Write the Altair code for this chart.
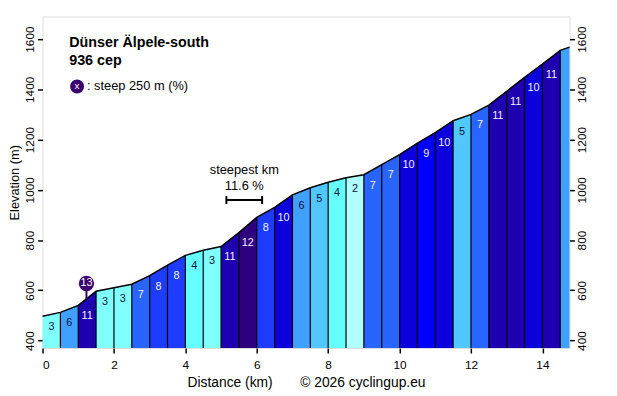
import altair as alt
import pandas as pd

# ---- data ----
dist = [0, 0.5, 1.0, 1.5, 2.0, 2.5, 3.0, 3.5, 4.0, 4.5, 5.0, 5.5, 6.0, 6.5, 7.0,
        7.5, 8.0, 8.5, 9.0, 9.5, 10.0, 10.5, 11.0, 11.5, 12.0, 12.5, 13.0, 13.5,
        14.0, 14.5, 14.76]
elev = [497, 512, 540, 596, 610, 624, 658, 700, 739, 759, 774, 830, 890, 930, 980,
        1008, 1030, 1048, 1060, 1100, 1140, 1186, 1228, 1275, 1300, 1337, 1392, 1448,
        1500, 1555, 1568]
grad = [3, 6, 11, 3, 3, 7, 8, 8, 4, 3, 11, 12, 8, 10, 6, 5, 4, 2, 7, 7, 10, 9, 10,
        5, 7, 11, 11, 10, 11, 6]
labelled = [True] * 29 + [False]

palette = {2: "#b0ffff", 3: "#80ffff", 4: "#66ffff", 5: "#50c8ff", 6: "#40a0ff",
           7: "#2864ff", 8: "#1e3cff", 9: "#0000ff", 10: "#0c00dc", 11: "#1e00b0",
           12: "#2e0080", 13: "#3a0070"}

title_lines = ["Dünser Älpele-south", "936 cep"]
legend_text = ": steep 250 m (%)"
steep_x, steep_pct, steep_base, steep_top = 1.23, 13, 566, 627
steepest_start, steepest_end, steepest_val = 5.15, 6.15, 11.6
x_ticks = [0, 2, 4, 6, 8, 10, 12, 14]
y_ticks = [400, 600, 800, 1000, 1200, 1400, 1600]

FONT = "Liberation Sans"
W, H = 534, 336

# ---- tables ----
seg_rows = []
for i, g in enumerate(grad):
    for j in (i, i + 1):
        seg_rows.append({"seg": i, "d": dist[j], "e": elev[j], "color": palette[g]})
seg_df = pd.DataFrame(seg_rows)
prof_df = pd.DataFrame({"d": dist, "e": elev})
bnd_df = pd.DataFrame({"d": dist[1:-1], "e": elev[1:-1]})
lab_df = pd.DataFrame({
    "mid": [(dist[i] + dist[i + 1]) / 2 for i in range(len(grad))],
    "e": elev[:-1],
    "txt": [str(g) if labelled[i] else "" for i, g in enumerate(grad)],
    "tcol": ["#10103a" if g <= 6 else "#f4f0ff" for g in grad],
})

xs = alt.Scale(domain=[0, dist[-1]], nice=False, zero=False)
ys = alt.Scale(domain=[370, 1690], nice=False, zero=False)
x_axis = alt.Axis(values=x_ticks, title="Distance (km)\u2003\u2003© 2026 cyclingup.eu",
                  labelFontSize=12, titleFontSize=14, titleFontWeight="normal",
                  tickSize=5, tickWidth=1.5, tickColor="black", domain=False, grid=False,
                  labelColor="black", titleColor="black", labelPadding=7, titlePadding=5,
                  labelFont=FONT, titleFont=FONT, format="d")
yl_axis = alt.Axis(values=y_ticks, title="Elevation (m)", orient="left", labelAngle=-90,
                   labelAlign="center", labelBaseline="bottom", labelFontSize=12,
                   titleFontSize=13, titleFontWeight="normal", tickSize=5, tickWidth=1.5,
                   tickColor="black", domain=False, grid=False, labelColor="black",
                   titleColor="black", labelPadding=1, titlePadding=2,
                   labelFont=FONT, titleFont=FONT, format="d")
yr_axis = alt.Axis(values=y_ticks, title=None, orient="right", labelAngle=-90,
                   labelAlign="center", labelBaseline="top", labelFontSize=12,
                   tickSize=5, tickWidth=1.5, tickColor="black", domain=False, grid=False,
                   labelColor="black", labelPadding=2, labelFont=FONT, format="d")

area = alt.Chart(seg_df).mark_area(interpolate="linear", strokeWidth=0).encode(
    x=alt.X("d:Q", scale=xs, axis=x_axis),
    y=alt.Y("e:Q", scale=ys, axis=yl_axis),
    y2=alt.datum(370),
    fill=alt.Fill("color:N", scale=None),
    detail="seg:N",
)

rules = alt.Chart(bnd_df).mark_rule(color="black", strokeWidth=1.2).encode(
    x=alt.X("d:Q", scale=xs),
    y=alt.Y("e:Q", scale=ys, axis=None),
    y2=alt.datum(370),
)

line = alt.Chart(prof_df).mark_line(color="black", strokeWidth=1.5).encode(
    x=alt.X("d:Q", scale=xs),
    y=alt.Y("e:Q", scale=ys, axis=yr_axis),
)

labels = alt.Chart(lab_df).mark_text(font=FONT, fontSize=11, baseline="middle",
                                     align="center", dy=11).encode(
    x=alt.X("mid:Q", scale=xs),
    y=alt.Y("e:Q", scale=ys, axis=None),
    text="txt:N",
    color=alt.Color("tcol:N", scale=None),
)

one = pd.DataFrame({"a": [0]})

title1 = alt.Chart(one).mark_text(font=FONT, fontSize=14.5, fontWeight="bold", align="left",
                                  baseline="alphabetic", color="black").encode(
    x=alt.value(27), y=alt.value(31), text=alt.value(title_lines[0]))
title2 = alt.Chart(one).mark_text(font=FONT, fontSize=14.5, fontWeight="bold", align="left",
                                  baseline="alphabetic", color="black").encode(
    x=alt.value(27), y=alt.value(49), text=alt.value(title_lines[1]))
leg_c = alt.Chart(one).mark_circle(size=200, opacity=1, color=palette[13]).encode(
    x=alt.value(35), y=alt.value(71))
leg_x = alt.Chart(one).mark_text(font=FONT, fontSize=10, color="white", align="center",
                                 baseline="middle").encode(
    x=alt.value(35), y=alt.value(70), text=alt.value("x"))
leg_t = alt.Chart(one).mark_text(font=FONT, fontSize=13, color="black", align="left",
                                 baseline="middle").encode(
    x=alt.value(45), y=alt.value(71), text=alt.value(legend_text))

steep_df = pd.DataFrame({"d": [steep_x], "b": [steep_base], "t": [steep_top],
                         "txt": [str(steep_pct)]})
st_rule = alt.Chart(steep_df).mark_rule(color=palette[13], strokeWidth=2).encode(
    x=alt.X("d:Q", scale=xs), y=alt.Y("b:Q", scale=ys, axis=None), y2="t:Q")
st_circ = alt.Chart(steep_df).mark_circle(size=240, opacity=1, color=palette[13]).encode(
    x=alt.X("d:Q", scale=xs), y=alt.Y("t:Q", scale=ys, axis=None))
st_txt = alt.Chart(steep_df).mark_text(font=FONT, fontSize=11, color="white",
                                       baseline="middle", align="center").encode(
    x=alt.X("d:Q", scale=xs), y=alt.Y("t:Q", scale=ys, axis=None), text="txt:N")

sk_df = pd.DataFrame({"s": [steepest_start], "e": [steepest_end],
                      "m": [(steepest_start + steepest_end) / 2],
                      "v": [f"{steepest_val} %"]})
sk_line = alt.Chart(sk_df).mark_rule(color="black", strokeWidth=2).encode(
    x=alt.X("s:Q", scale=xs), x2="e:Q", y=alt.value(186))
sk_cap1 = alt.Chart(sk_df).mark_rule(color="black", strokeWidth=2).encode(
    x=alt.X("s:Q", scale=xs), y=alt.value(182), y2=alt.value(190))
sk_cap2 = alt.Chart(sk_df).mark_rule(color="black", strokeWidth=2).encode(
    x=alt.X("e:Q", scale=xs), y=alt.value(182), y2=alt.value(190))
sk_t1 = alt.Chart(sk_df).mark_text(font=FONT, fontSize=13, color="black",
                                   baseline="middle", align="center").encode(
    x=alt.X("m:Q", scale=xs), y=alt.value(156), text=alt.value("steepest km"))
sk_t2 = alt.Chart(sk_df).mark_text(font=FONT, fontSize=13, color="black",
                                   baseline="middle", align="center").encode(
    x=alt.X("m:Q", scale=xs), y=alt.value(172), text="v:N")

chart = alt.layer(
    area, rules, line, labels, title1, title2, leg_c, leg_x, leg_t,
    st_rule, st_circ, st_txt, sk_line, sk_cap1, sk_cap2, sk_t1, sk_t2,
).resolve_axis(y="independent").properties(
    width=W, height=H,
    autosize=alt.AutoSizeParams(type="none"),
    padding={"left": 35, "top": 6, "right": 40, "bottom": 46},
).configure_view(stroke="black", strokeWidth=2).configure(background="white")

chart.save("out.html", embed_options={"renderer": "svg", "actions": False})
